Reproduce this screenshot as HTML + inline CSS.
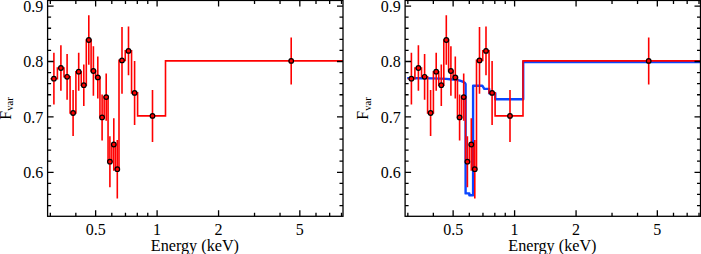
<!DOCTYPE html>
<html><head><meta charset="utf-8"><style>
html,body{margin:0;padding:0;background:#fff;}
body{width:701px;height:254px;overflow:hidden;}
svg{display:block;}
</style></head><body>
<svg width="701" height="254" viewBox="0 0 701 254">
<defs>
<g id="panel">
<path d="M95.63,216.3 v-6.0 M95.63,0.45 v6.0 M157.1,216.3 v-6.0 M157.1,0.45 v6.0 M218.57,216.3 v-6.0 M218.57,0.45 v6.0 M299.83,216.3 v-6.0 M299.83,0.45 v6.0 M50.33,216.3 v-3.5 M50.33,0.45 v3.5 M75.84,216.3 v-3.5 M75.84,0.45 v3.5 M111.8,216.3 v-3.5 M111.8,0.45 v3.5 M125.47,216.3 v-3.5 M125.47,0.45 v3.5 M137.31,216.3 v-3.5 M137.31,0.45 v3.5 M147.76,216.3 v-3.5 M147.76,0.45 v3.5 M254.53,216.3 v-3.5 M254.53,0.45 v3.5 M280.04,216.3 v-3.5 M280.04,0.45 v3.5 M316,216.3 v-3.5 M316,0.45 v3.5 M329.67,216.3 v-3.5 M329.67,0.45 v3.5 M341.51,216.3 v-3.5 M341.51,0.45 v3.5 M47.6,172.3 h6.0 M343,172.3 h-6.0 M47.6,116.9 h6.0 M343,116.9 h-6.0 M47.6,61.5 h6.0 M343,61.5 h-6.0 M47.6,6.1 h6.0 M343,6.1 h-6.0 M47.6,205.54 h3.5 M343,205.54 h-3.5 M47.6,194.46 h3.5 M343,194.46 h-3.5 M47.6,183.38 h3.5 M343,183.38 h-3.5 M47.6,161.22 h3.5 M343,161.22 h-3.5 M47.6,150.14 h3.5 M343,150.14 h-3.5 M47.6,139.06 h3.5 M343,139.06 h-3.5 M47.6,127.98 h3.5 M343,127.98 h-3.5 M47.6,105.82 h3.5 M343,105.82 h-3.5 M47.6,94.74 h3.5 M343,94.74 h-3.5 M47.6,83.66 h3.5 M343,83.66 h-3.5 M47.6,72.58 h3.5 M343,72.58 h-3.5 M47.6,50.42 h3.5 M343,50.42 h-3.5 M47.6,39.34 h3.5 M343,39.34 h-3.5 M47.6,28.26 h3.5 M343,28.26 h-3.5 M47.6,17.18 h3.5 M343,17.18 h-3.5" stroke="#000" stroke-width="1.3" fill="none"/>
<rect x="47.6" y="0.45" width="295.4" height="215.85" stroke="#000" stroke-width="1.3" fill="none"/>
<g style="font-family: &quot;Liberation Serif&quot;, serif" font-size="16" fill="#000">
<text x="43.3" y="11.8" text-anchor="end">0.9</text>
<text x="43.3" y="67.2" text-anchor="end">0.8</text>
<text x="43.3" y="122.6" text-anchor="end">0.7</text>
<text x="43.3" y="178" text-anchor="end">0.6</text>
<text x="95.63" y="235" text-anchor="middle">0.5</text>
<text x="157.1" y="235" text-anchor="middle">1</text>
<text x="218.57" y="235" text-anchor="middle">2</text>
<text x="299.83" y="235" text-anchor="middle">5</text>
<text x="194.9" y="251" font-size="16.2" text-anchor="middle">Energy (keV)</text>
<g transform="translate(10.9,108.5) rotate(-90)"><text x="0" y="0" text-anchor="middle">F<tspan font-size="10.5" dy="2.2">var</tspan></text></g>
</g>
</g>
<g id="data">
<path d="M50.4,78.7H57.4V68H64V76.8H70.1V113H75.9V71.7H81.25V85.2H86.3V40H91.1V71H95.6V77.4H99.95V117.4H104.15V97.1H108.05V161.7H111.85V144.5H115.55V169.2H119V60.4H125.25V50.9H131.55V92.9H137.6V115.9H165.5V60.9H343" stroke="#ff0000" stroke-width="1.6" fill="none"/>
<path d="M53.9,52.8V104.6 M60.9,45.2V90.8 M67.1,53.9V99.7 M73.1,90.1V135.9 M78.7,52.7V90.7 M83.8,64.5V105.9 M88.8,15.3V64.7 M93.4,46.3V95.7 M97.8,56.4V98.4 M102.1,94.4V140.4 M106.2,73.5V120.7 M109.9,136.2V187.2 M113.8,118.3V170.7 M117.3,140V198.4 M122,27.1V93.7 M128.5,26.6V75.2 M134.6,60.9V124.9 M152.5,89.9V141.9 M291.2,37.4V84.4" stroke="#ff0000" stroke-width="1.6" fill="none"/>
<circle cx="53.9" cy="78.7" r="2.3" fill="#ff0000" stroke="#000" stroke-width="1.2"/>
<circle cx="60.9" cy="68" r="2.3" fill="#ff0000" stroke="#000" stroke-width="1.2"/>
<circle cx="67.1" cy="76.8" r="2.3" fill="#ff0000" stroke="#000" stroke-width="1.2"/>
<circle cx="73.1" cy="113" r="2.3" fill="#ff0000" stroke="#000" stroke-width="1.2"/>
<circle cx="78.7" cy="71.7" r="2.3" fill="#ff0000" stroke="#000" stroke-width="1.2"/>
<circle cx="83.8" cy="85.2" r="2.3" fill="#ff0000" stroke="#000" stroke-width="1.2"/>
<circle cx="88.8" cy="40" r="2.3" fill="#ff0000" stroke="#000" stroke-width="1.2"/>
<circle cx="93.4" cy="71" r="2.3" fill="#ff0000" stroke="#000" stroke-width="1.2"/>
<circle cx="97.8" cy="77.4" r="2.3" fill="#ff0000" stroke="#000" stroke-width="1.2"/>
<circle cx="102.1" cy="117.4" r="2.3" fill="#ff0000" stroke="#000" stroke-width="1.2"/>
<circle cx="106.2" cy="97.1" r="2.3" fill="#ff0000" stroke="#000" stroke-width="1.2"/>
<circle cx="109.9" cy="161.7" r="2.3" fill="#ff0000" stroke="#000" stroke-width="1.2"/>
<circle cx="113.8" cy="144.5" r="2.3" fill="#ff0000" stroke="#000" stroke-width="1.2"/>
<circle cx="117.3" cy="169.2" r="2.3" fill="#ff0000" stroke="#000" stroke-width="1.2"/>
<circle cx="122" cy="60.4" r="2.3" fill="#ff0000" stroke="#000" stroke-width="1.2"/>
<circle cx="128.5" cy="50.9" r="2.3" fill="#ff0000" stroke="#000" stroke-width="1.2"/>
<circle cx="134.6" cy="92.9" r="2.3" fill="#ff0000" stroke="#000" stroke-width="1.2"/>
<circle cx="152.5" cy="115.9" r="2.3" fill="#ff0000" stroke="#000" stroke-width="1.2"/>
<circle cx="291.2" cy="60.9" r="2.3" fill="#ff0000" stroke="#000" stroke-width="1.2"/>
</g>
</defs>
<rect width="701" height="254" fill="#fff"/>
<use href="#data"/>
<use href="#panel"/>
<path d="M407.2,78.1 L420,78.2 L432,78.4 L440,78.6 L446,78.9 L450,79.2 L454,79.6 L457.5,80.1 L460,80.6 L462,81.4 L463.8,82.2 L465,83 L465.6,84 L465.6,193.4 H469.35 V195.2 H473.1 V85.7 H482.3 L484.3,88.9 H489.2 V93.2 H495.3 V99.2 H523.2 V62.0 H701.5" stroke="#0a46ff" stroke-width="2.4" fill="none" stroke-linejoin="round"/>
<g transform="translate(357.5,0)"><use href="#data"/></g>
<g transform="translate(357.5,0)"><use href="#panel"/></g>
</svg>
</body></html>
